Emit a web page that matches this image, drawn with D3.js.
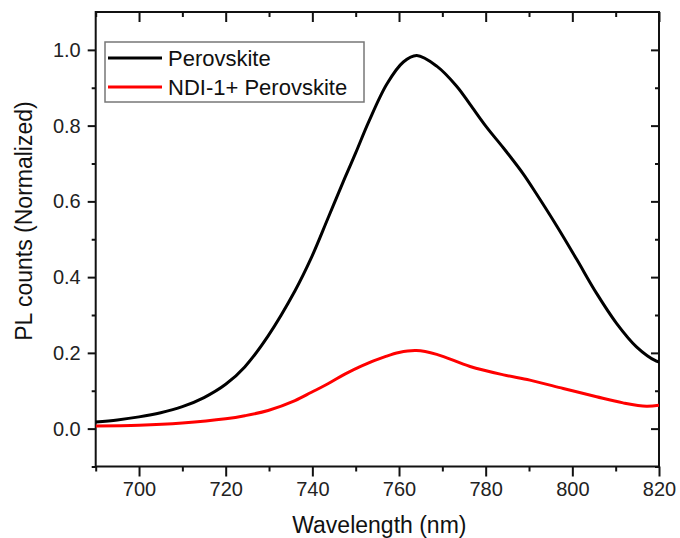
<!DOCTYPE html>
<html>
<head>
<meta charset="utf-8">
<script src="https://cdn.jsdelivr.net/npm/d3@7"></script>
<style>
  html, body { margin: 0; padding: 0; background: #fff; }
  svg { display: block; font-family: "Liberation Sans", Arial, sans-serif; }
</style>
</head>
<body>
<svg id="chart" width="680" height="538"></svg>
<script>
// ---- data ----
const wavelengthsPerovskite = [690, 695, 700, 705, 710, 715, 720, 724.4, 729.8, 736, 739.8, 743.7, 747.5, 750, 753, 757.2, 761, 764.1, 768.7, 773.3, 776.4, 780.2, 784.1, 788.7, 791.7, 796.4, 801, 805.6, 810.2, 814.8, 819.4, 820];
const perovskite = [0.0175, 0.023, 0.031, 0.042, 0.058, 0.082, 0.117, 0.163, 0.245, 0.364, 0.452, 0.558, 0.662, 0.728, 0.81, 0.91, 0.968, 0.985, 0.957, 0.904, 0.856, 0.796, 0.741, 0.672, 0.62, 0.535, 0.447, 0.357, 0.278, 0.216, 0.178, 0.176];
const wavelengthsNDI = [690, 700, 710, 720, 724.4, 729.8, 736, 739.8, 743.7, 747.5, 751.4, 756.8, 760, 764, 768.7, 776.4, 784.1, 790.2, 797.9, 805.6, 811.7, 817.1, 820];
const ndiPerovskite = [0.007, 0.009, 0.015, 0.026, 0.034, 0.048, 0.074, 0.096, 0.119, 0.144, 0.166, 0.19, 0.201, 0.206, 0.196, 0.164, 0.142, 0.128, 0.106, 0.084, 0.068, 0.059, 0.062];
const seriesNames = ["Perovskite", "NDI-1+ Perovskite"];
const seriesColors = ["#000000", "#ff0000"];
const xTicks = [700, 720, 740, 760, 780, 800, 820];
const xMinorTicks = [690, 710, 730, 750, 770, 790, 810];
const yTicks = [0.0, 0.2, 0.4, 0.6, 0.8, 1.0];
const yMinorTicks = [-0.1, 0.1, 0.3, 0.5, 0.7, 0.9];
const xTitle = "Wavelength (nm)";
const yTitle = "PL counts (Normalized)";

// ---- layout ----
const pL = 95.7, pR = 659, pT = 12, pB = 466.5;
const svg = d3.select("#chart");
const x = d3.scaleLinear().domain([690, 820]).range([pL, pR]);
const y = d3.scaleLinear().domain([-0.1, 1.1]).range([pB, pT]);

const axisColor = "#111";
const fmtY = d3.format(".1f");

// bottom axis (outward ticks)
svg.append("g").attr("transform", `translate(0,${pB})`)
  .call(d3.axisBottom(x).tickValues(xTicks).tickSize(10).tickPadding(5).tickFormat(d3.format("d")));
svg.append("g").attr("transform", `translate(0,${pB})`)
  .call(d3.axisBottom(x).tickValues(xMinorTicks).tickSize(5).tickFormat(""));
// top axis (inward ticks)
svg.append("g").attr("transform", `translate(0,${pT})`)
  .call(d3.axisBottom(x).tickValues(xTicks).tickSize(10).tickFormat(""));
svg.append("g").attr("transform", `translate(0,${pT})`)
  .call(d3.axisBottom(x).tickValues(xMinorTicks).tickSize(5).tickFormat(""));
// left axis (outward ticks)
svg.append("g").attr("transform", `translate(${pL},0)`)
  .call(d3.axisLeft(y).tickValues(yTicks).tickSize(8).tickPadding(7).tickFormat(fmtY));
svg.append("g").attr("transform", `translate(${pL},0)`)
  .call(d3.axisLeft(y).tickValues(yMinorTicks).tickSize(4).tickFormat(""));
// right axis (inward ticks)
svg.append("g").attr("transform", `translate(${pR},0)`)
  .call(d3.axisLeft(y).tickValues(yTicks).tickSize(8).tickFormat(""));
svg.append("g").attr("transform", `translate(${pR},0)`)
  .call(d3.axisLeft(y).tickValues(yMinorTicks).tickSize(4).tickFormat(""));

svg.selectAll(".domain").remove();
svg.selectAll(".tick line").attr("stroke", axisColor).attr("stroke-width", 2);
svg.selectAll(".tick text").attr("fill", "#222").attr("font-size", 20)
  .attr("font-family", "'Liberation Sans', Arial, sans-serif");

// frame
svg.append("rect").attr("x", pL).attr("y", pT)
  .attr("width", pR - pL).attr("height", pB - pT)
  .attr("fill", "none").attr("stroke", axisColor).attr("stroke-width", 2);

// curves
svg.append("clipPath").attr("id", "clip").append("rect")
  .attr("x", pL).attr("y", pT).attr("width", pR - pL).attr("height", pB - pT);
const line = d3.line().x(d => x(d[0])).y(d => y(d[1])).curve(d3.curveCatmullRom.alpha(0.5));
const dataSets = [
  d3.zip(wavelengthsPerovskite, perovskite),
  d3.zip(wavelengthsNDI, ndiPerovskite)
];
svg.append("g").attr("clip-path", "url(#clip)")
  .selectAll("path").data(dataSets).join("path")
  .attr("d", line).attr("fill", "none")
  .attr("stroke", (d, i) => seriesColors[i]).attr("stroke-width", 3)
  .attr("stroke-linejoin", "round");

// legend
const lg = svg.append("g");
lg.append("rect").attr("x", 105).attr("y", 42).attr("width", 259).attr("height", 60)
  .attr("fill", "#fff").attr("stroke", "#777").attr("stroke-width", 1.5);
seriesNames.forEach((name, i) => {
  const cy = 58 + i * 29;
  lg.append("line").attr("x1", 108).attr("x2", 162).attr("y1", cy).attr("y2", cy)
    .attr("stroke", seriesColors[i]).attr("stroke-width", 3);
  lg.append("text").attr("x", 168).attr("y", cy + 8).attr("font-size", 22)
    .attr("fill", "#111").text(name);
});

// titles
svg.append("text").attr("x", (pL + pR) / 2 + 2).attr("y", 533)
  .attr("text-anchor", "middle").attr("font-size", 23).attr("fill", "#111").text(xTitle);
svg.append("text").attr("transform", "translate(32,221) rotate(-90)")
  .attr("text-anchor", "middle").attr("font-size", 23).attr("fill", "#111").text(yTitle);
</script>
</body>
</html>
